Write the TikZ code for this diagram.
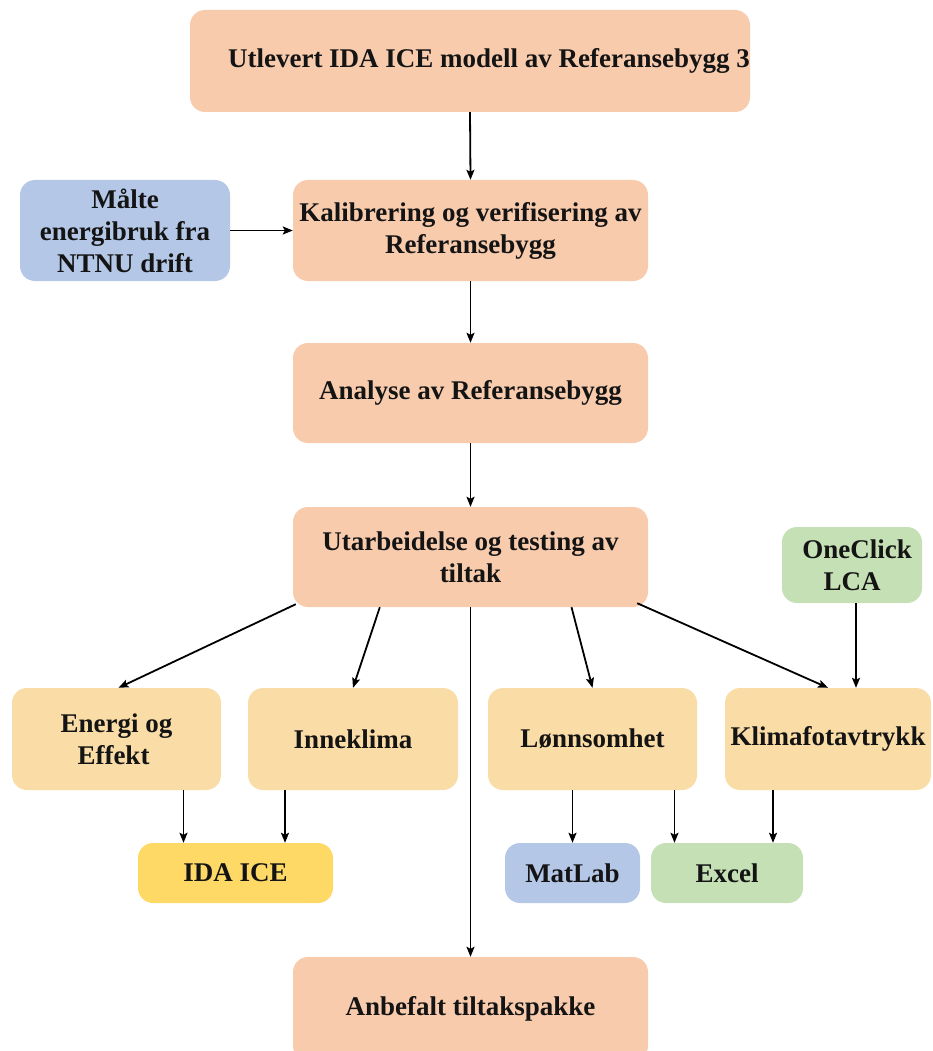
\documentclass[tikz,border=0pt]{standalone}
\usepackage{fontspec}
\setmainfont{Liberation Serif}
\usetikzlibrary{arrows.meta,calc}
\definecolor{peach}{HTML}{F8CBAD}
\definecolor{lorange}{HTML}{FADCA6}
\definecolor{gold}{HTML}{FFD966}
\definecolor{lblue}{HTML}{B4C7E7}
\definecolor{lgreen}{HTML}{C5E0B4}
\tikzset{
  box/.style={rounded corners=15pt, inner sep=0pt, align=center, text=black!92,
    font=\fontsize{27}{32}\selectfont\bfseries},
  arr/.style={draw=black, line width=1.8pt, -{Stealth[length=10pt,width=8pt,inset=2pt]}},
}
\begin{document}
\begin{tikzpicture}[x=1pt,y=-1pt]
\useasboundingbox (0,0) rectangle (933,1051);
\node[box, fill=peach, minimum width=560pt, minimum height=102pt] (utl) at (470,61) {\hspace*{38pt}Utlevert IDA ICE modell av Referansebygg 3};
\node[box, fill=lblue, minimum width=210pt, minimum height=101pt] (maalte) at (125,230.5) {\raisebox{-5pt}{\parbox{200pt}{\centering Målte\\energibruk fra\\NTNU drift}}};
\node[box, fill=peach, minimum width=355pt, minimum height=101pt] (kalib) at (470.5,230.5) {Kalibrering og verifisering av\\Referansebygg};
\node[box, fill=peach, minimum width=355pt, minimum height=100pt] (analyse) at (470.5,393) {Analyse av Referansebygg};
\node[box, fill=peach, minimum width=355pt, minimum height=100pt] (utarb) at (470.5,557) {Utarbeidelse og testing av\\tiltak};
\node[box, fill=lgreen, minimum width=140pt, minimum height=76pt] (one) at (852,565) {\hspace*{10pt}OneClick\\LCA};
\node[box, fill=lorange, minimum width=209pt, minimum height=102pt] (energi) at (116.5,739) {Energi og\\Effekt\hspace*{6pt}};
\node[box, fill=lorange, minimum width=210pt, minimum height=102pt] (inne) at (353,739) {Inneklima};
\node[box, fill=lorange, minimum width=209pt, minimum height=102pt] (lonn) at (592.5,739) {Lønnsomhet};
\node[box, fill=lorange, minimum width=206pt, minimum height=102pt] (klima) at (828,739) {Klimafotavtrykk};
\node[box, fill=gold, minimum width=195pt, minimum height=60pt] (ida) at (235.5,873) {IDA ICE};
\node[box, fill=lblue, minimum width=135pt, minimum height=60pt] (matlab) at (572.5,873) {MatLab};
\node[box, fill=lgreen, minimum width=152pt, minimum height=60pt] (excel) at (727,873) {Excel};
\node[box, fill=peach, minimum width=355pt, minimum height=104pt] (anbef) at (470.5,1009) {Anbefalt tiltakspakke};
% connectors
\draw[arr] (utl.south) -- (kalib.north);
\draw[arr] (maalte.east) -- (kalib.west);
\draw[arr] (kalib.south) -- (analyse.north);
\draw[arr] (analyse.south) -- (utarb.north);
\draw[arr] ([xshift=3pt,yshift=3pt]utarb.south west) -- ([xshift=2pt]energi.north);
\draw[arr] ([xshift=87pt]utarb.south west) -- (inne.north);
\draw[arr] (utarb.south) -- (anbef.north);
\draw[arr] ([xshift=101pt]utarb.south) -- (lonn.north);
\draw[arr] ([xshift=-11pt,yshift=4pt]utarb.south east) -- (klima.north);
\draw[arr] ([xshift=4pt]one.south) -- ([xshift=4pt]one.south |- klima.north);
\draw[arr] ([xshift=67pt]energi.south) -- ([xshift=67pt]energi.south |- ida.north);
\draw[arr] ([xshift=-68pt]inne.south) -- ([xshift=-68pt]inne.south |- ida.north);
\draw[arr] (matlab.north |- lonn.south) -- (matlab.north);
\draw[arr] ([xshift=82pt]lonn.south) -- ([xshift=82pt]lonn.south |- excel.north);
\draw[arr] ([xshift=-55pt]klima.south) -- ([xshift=-55pt]klima.south |- excel.north);
\end{tikzpicture}
\end{document}
